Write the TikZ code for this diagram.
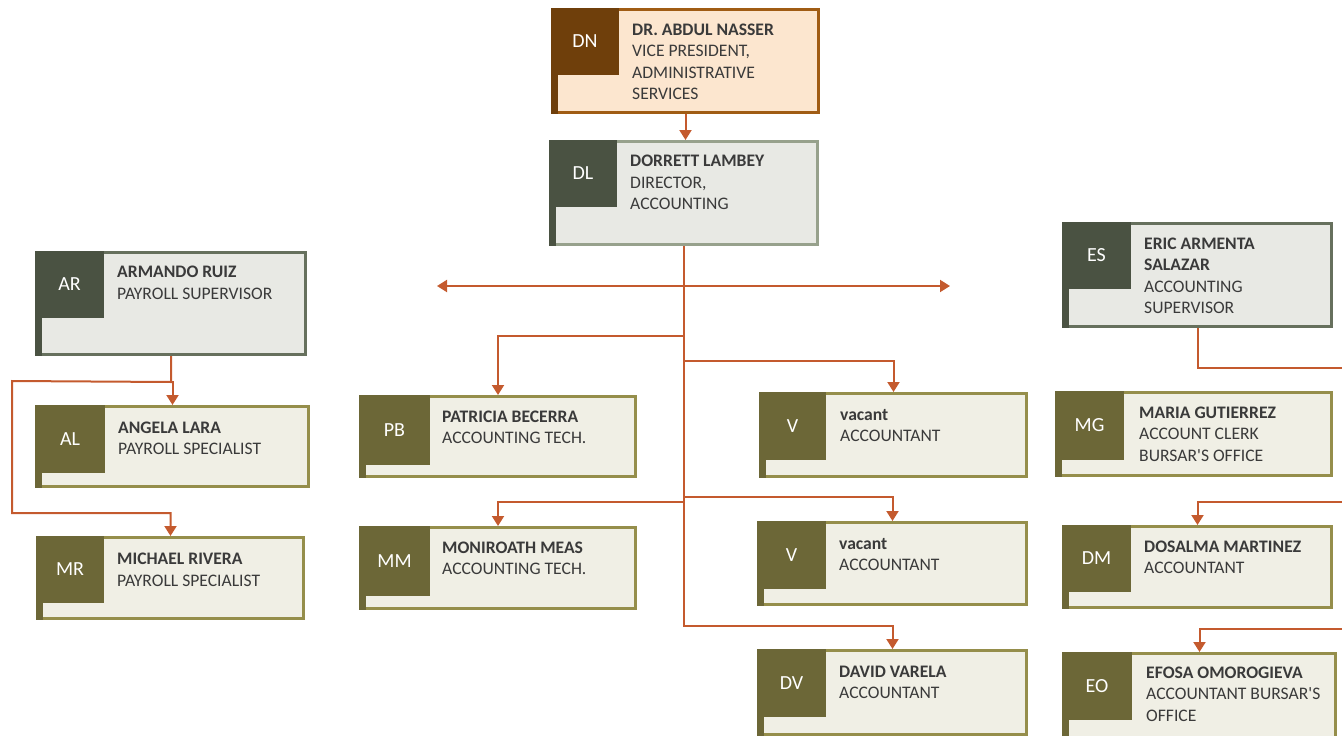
\documentclass[tikz,border=0pt]{standalone}
\usepackage{fontspec}
\setmainfont{Carlito}
\usetikzlibrary{arrows.meta,fit}
\definecolor{dnB}{HTML}{A05C14}
\definecolor{dnF}{HTML}{FCE6CF}
\definecolor{dnD}{HTML}{6F3F0B}
\definecolor{dlB}{HTML}{97A18C}
\definecolor{dlF}{HTML}{E8E9E4}
\definecolor{dlD}{HTML}{4A5242}
\definecolor{svB}{HTML}{66705D}
\definecolor{svF}{HTML}{E8E9E4}
\definecolor{svD}{HTML}{4A5242}
\definecolor{olB}{HTML}{958E4B}
\definecolor{olF}{HTML}{F0EFE5}
\definecolor{olD}{HTML}{6C6737}
\definecolor{connC}{HTML}{C45A2E}
\definecolor{txtC}{HTML}{3A3A3A}
\newcommand{\orglines}[1]{\begin{tabular}[t]{@{}l@{}}#1\end{tabular}}
% #1 name, #2 x1, #3 y1, #4 x2, #5 y2, #6 square x2, #7 square y2, #8 scheme, #9 initials
\newcommand{\orgbox}[9]{%
  \node[fit={(#2,#3) (#4,#5)}, inner sep=-1.5pt, draw=#8B, fill=#8F, line width=3pt] (#1) {};
  \fill[#8D] (#2,#3) rectangle (#6,#7);
  \fill[#8D] (#2,#3) rectangle (#2+7,#5);
  \node[initials] (#1-i) at ({(#2+#6)/2},{(#3+#7)/2}) {#9};
}
\begin{document}
\begin{tikzpicture}[x=1pt,y=-1pt,
  initials/.style={inner sep=0, text=white, font=\fontsize{20}{24}\selectfont},
  tx/.style={anchor=base west, inner sep=0, text=txtC, font=\fontsize{17.6}{21.5}\selectfont},
  link/.style={draw=connC, line width=2pt},
  conn/.style={link, -{Triangle[width=12pt,length=10pt]}},
  both/.style={link, {Triangle[width=12pt,length=10pt]}-{Triangle[width=12pt,length=10pt]}}]
\useasboundingbox (0,0) rectangle (1342,736);
\clip (0,0) rectangle (1342,736);

% boxes
\orgbox{DN}{551}{8}{820}{114}{619}{75}{dn}{DN}
\orgbox{DL}{549}{140}{819}{246}{617}{207}{dl}{DL}
\orgbox{AR}{35}{251}{307}{356}{104}{318}{sv}{AR}
\orgbox{AL}{35}{405}{310}{488}{105}{473}{ol}{AL}
\orgbox{MR}{36}{536}{305}{620}{104}{603}{ol}{MR}
\orgbox{PB}{359}{395}{637}{478}{430}{465}{ol}{PB}
\orgbox{MM}{359}{526}{637}{610}{430}{596}{ol}{MM}
\orgbox{VA}{759}{392}{1028}{478}{826}{460}{ol}{V}
\orgbox{VB}{757}{521}{1028}{606}{826}{589}{ol}{V}
\orgbox{DV}{757}{649}{1028}{736}{826}{717}{ol}{DV}
\orgbox{ES}{1062}{222}{1333}{328}{1131}{289}{sv}{ES}
\orgbox{MG}{1055}{391}{1333}{477}{1124}{460}{ol}{MG}
\orgbox{DM}{1062}{525}{1333}{609}{1131}{592}{ol}{DM}
\orgbox{EO}{1062}{652}{1337}{748}{1132}{720}{ol}{EO}

% texts
\node[tx] (DN-t) at (632,35) {\orglines{\textbf{DR. ABDUL NASSER}\\VICE PRESIDENT,\\ADMINISTRATIVE\\SERVICES}};
\node[tx] (DL-t) at (630,166.5) {\orglines{\textbf{DORRETT LAMBEY}\\DIRECTOR,\\ACCOUNTING}};
\node[tx] (AR-t) at (117,277.5) {\orglines{\textbf{ARMANDO RUIZ}\\PAYROLL SUPERVISOR}};
\node[tx] (AL-t) at (118,433) {\orglines{\textbf{ANGELA LARA}\\PAYROLL SPECIALIST}};
\node[tx] (MR-t) at (117,564.5) {\orglines{\textbf{MICHAEL RIVERA}\\PAYROLL SPECIALIST}};
\node[tx] (PB-t) at (442,422) {\orglines{\textbf{PATRICIA BECERRA}\\ACCOUNTING TECH.}};
\node[tx] (MM-t) at (442,553) {\orglines{\textbf{MONIROATH MEAS}\\ACCOUNTING TECH.}};
\node[tx] (VA-t) at (840,420) {\orglines{\textbf{vacant}\\ACCOUNTANT}};
\node[tx] (VB-t) at (839,549) {\orglines{\textbf{vacant}\\ACCOUNTANT}};
\node[tx] (DV-t) at (839,677) {\orglines{\textbf{DAVID VARELA}\\ACCOUNTANT}};
\node[tx] (ES-t) at (1144,249) {\orglines{\textbf{ERIC ARMENTA}\\\textbf{SALAZAR}\\ACCOUNTING\\SUPERVISOR}};
\node[tx] (MG-t) at (1139,418) {\orglines{\textbf{MARIA GUTIERREZ}\\ACCOUNT CLERK\\BURSAR\textquotesingle S OFFICE}};
\node[tx] (DM-t) at (1144,552) {\orglines{\textbf{DOSALMA MARTINEZ}\\ACCOUNTANT}};
\node[tx] (EO-t) at (1146,678) {\orglines{\textbf{EFOSA OMOROGIEVA}\\ACCOUNTANT BURSAR\textquotesingle S\\OFFICE}};

% free ends
\coordinate (hl) at (437,286);
\coordinate (hr) at (950,286);
\coordinate (trunkEnd) at (684,625);
\coordinate (ml) at (12,381);
\coordinate (ml2) at (12,513);
\coordinate (esr) at (1346,368);
\coordinate (dmr) at (1346,502);
\coordinate (eor) at (1346,629);

% connectors
\draw[conn] (DN.south) -- (DN.south |- DL.north);
\draw[link] (DL.south) -- (trunkEnd);
\draw[both] (hl) -- (hr);
\draw[conn] (DL.south) -- ++(0,90) -| (PB.north);
\draw[conn] (DL.south) -- ++(0,115) -| (VA.north);
\draw[conn] (DL.south) -- ++(0,256) -| (MM.north);
\draw[conn] (DL.south) -- ++(0,251) -| (VB.north);
\draw[conn] (DL.south) -- ++(0,380) -| (DV.north);
\draw[conn] (AR.south) -- ++(0,26) -| (AL.north);
\draw[conn] (AR.south) -- ++(0,26) -- (ml) -- (ml2) -| (MR.north);
\draw[link] (ES.south) |- (esr);
\draw[conn] (dmr) -| (DM.north);
\draw[conn] (eor) -| (EO.north);
\end{tikzpicture}
\end{document}
